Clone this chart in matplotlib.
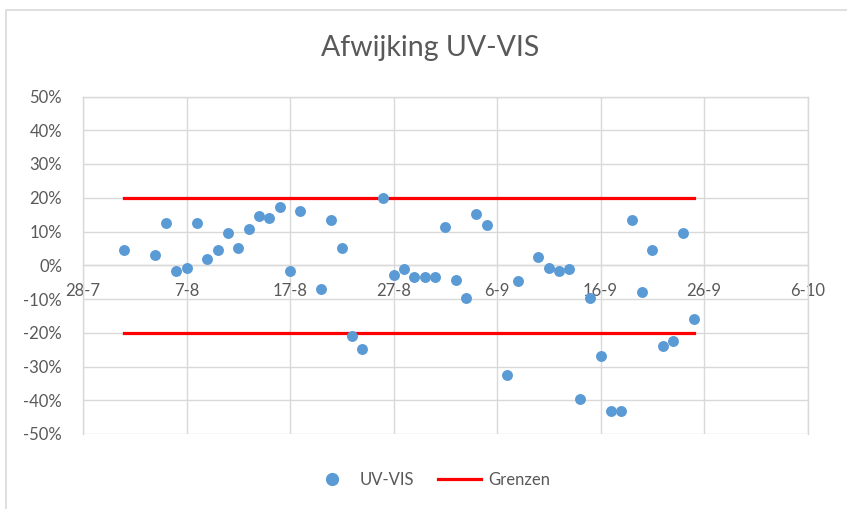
import matplotlib
matplotlib.use("Agg")
import matplotlib.pyplot as plt
import matplotlib.dates as mdates
from matplotlib.ticker import FuncFormatter, MultipleLocator
from matplotlib.lines import Line2D
from matplotlib.patches import Rectangle
import datetime as dt

# ---- data ----
dates = ["2016-08-01", "2016-08-04", "2016-08-05", "2016-08-06", "2016-08-07",
         "2016-08-08", "2016-08-09", "2016-08-10", "2016-08-11", "2016-08-12",
         "2016-08-13", "2016-08-14", "2016-08-15", "2016-08-16", "2016-08-17",
         "2016-08-18", "2016-08-20", "2016-08-21", "2016-08-22", "2016-08-23",
         "2016-08-24", "2016-08-26", "2016-08-27", "2016-08-28", "2016-08-29",
         "2016-08-30", "2016-08-31", "2016-09-01", "2016-09-02", "2016-09-03",
         "2016-09-04", "2016-09-05", "2016-09-07", "2016-09-08", "2016-09-10",
         "2016-09-11", "2016-09-12", "2016-09-13", "2016-09-14", "2016-09-15",
         "2016-09-16", "2016-09-17", "2016-09-18", "2016-09-19", "2016-09-20",
         "2016-09-21", "2016-09-22", "2016-09-23", "2016-09-24", "2016-09-25"]
uv_vis = [4.6, 3.0, 12.5, -1.7, -0.7, 12.5, 1.8, 4.6, 9.7, 5.0,
          10.7, 14.5, 13.9, 17.2, -1.7, 16.0, -6.9, 13.4, 5.1, -20.9,
          -24.9, 20.0, -2.9, -1.1, -3.5, -3.5, -3.5, 11.4, -4.3, -9.7,
          15.2, 11.9, -32.5, -4.7, 2.5, -0.7, -1.7, -1.2, -39.5, -9.7,
          -26.9, -43.2, -43.2, 13.5, -7.9, 4.6, -23.8, -22.3, 9.7, -15.8]
grens_dates = ["2016-08-01", "2016-09-25"]
grens_upper = [20, 20]
grens_lower = [-20, -20]
x_ticks = ["2016-07-28", "2016-08-07", "2016-08-17", "2016-08-27",
           "2016-09-06", "2016-09-16", "2016-09-26", "2016-10-06"]

to_dt = lambda s: dt.datetime.strptime(s, "%Y-%m-%d")
xd = [to_dt(s) for s in dates]
gd = [to_dt(s) for s in grens_dates]
xt = [to_dt(s) for s in x_ticks]

plt.rcParams['font.family'] = ['Lato', 'DejaVu Sans']
W, H = 847, 509
fig = plt.figure(figsize=(W / 100, H / 100), dpi=100)
fig.patch.set_facecolor('white')

# outer chart border
fig.add_artist(Rectangle((6 / W, -0.05), 1.2, 1 - 10 / H + 0.05,
                         transform=fig.transFigure, fill=False,
                         edgecolor='#d9d9d9', linewidth=1.2))

ax = fig.add_axes([83 / W, 1 - 434 / H, (807.5 - 83) / W, (434 - 96.5) / H])
ax.set_axisbelow(True)

blue = '#5b9bd5'
red = '#ff0000'
grid_c = '#d9d9d9'
text_c = '#595959'

ax.plot(gd, grens_upper, color=red, linewidth=2.3, zorder=2)
ax.plot(gd, grens_lower, color=red, linewidth=2.3, zorder=2)
ax.scatter(xd, uv_vis, s=62, color=blue, zorder=3, linewidths=0)

ax.set_xlim(xt[0], xt[-1])
ax.set_ylim(-50, 50)
ax.set_xticks(xt)
ax.xaxis.set_major_formatter(FuncFormatter(
    lambda v, p: f"{mdates.num2date(v).day}-{mdates.num2date(v).month}"))
ax.yaxis.set_major_locator(MultipleLocator(10))
ax.yaxis.set_major_formatter(FuncFormatter(lambda v, p: f"{int(round(v))}%"))

ax.grid(True, color=grid_c, linewidth=1.0)
for s in ['top', 'right', 'left']:
    ax.spines[s].set_color(grid_c)
    ax.spines[s].set_linewidth(1.0)
ax.spines['bottom'].set_position(('data', 0))
ax.spines['bottom'].set_color(grid_c)
ax.spines['bottom'].set_linewidth(1.0)

ax.tick_params(axis='both', length=0, labelsize=12, labelcolor=text_c)
ax.tick_params(axis='y', pad=15)
ax.tick_params(axis='x', pad=13)

fig.text(0.508, 1 - 48 / H, "Afwijking UV-VIS", ha='center', va='center',
         fontsize=20.5, color=text_c)

handles = [Line2D([], [], marker='o', linestyle='none', color=blue, markersize=8.5),
           Line2D([], [], color=red, linewidth=2.3)]
fig.legend(handles, ["UV-VIS", "Grenzen"], loc='center',
           bbox_to_anchor=(430 / W, 1 - 480 / H), ncol=2, frameon=False,
           fontsize=12, labelcolor=text_c, handlelength=2.6, columnspacing=1.4,
           handletextpad=0.4)

fig.savefig("out.png", dpi=100, facecolor='white')
